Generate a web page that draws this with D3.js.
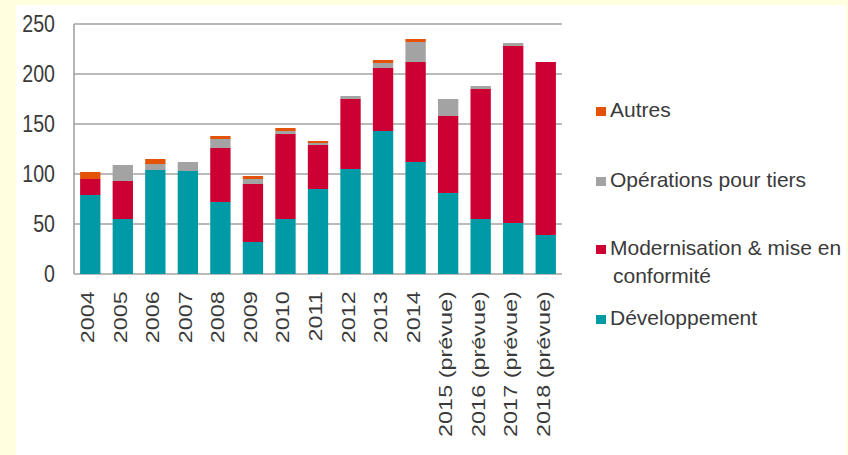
<!DOCTYPE html>
<html>
<head>
<meta charset="utf-8">
<script src="https://cdn.jsdelivr.net/npm/d3@7"></script>
<style>
  body { margin: 0; background: #ffffe0; }
  svg { display: block; }
</style>
</head>
<body>
<script>
const years = ['2004', '2005', '2006', '2007', '2008', '2009', '2010', '2011', '2012', '2013', '2014',
  '2015 (prévue)', '2016 (prévue)', '2017 (prévue)', '2018 (prévue)'];
const developpement = [79, 55, 104, 103, 72, 32, 55, 85, 105, 143, 112, 81, 55, 51, 39];
const modernisation = [16, 38, 0, 0, 54, 58, 85, 44, 70, 63, 100, 77, 130, 177, 173];
const operations = [0, 16, 6, 9, 9, 5, 3, 2, 3, 5, 20, 17, 3, 3, 0];
const autres = [7, 0, 5, 0, 3, 3, 3, 2, 0, 3, 3, 0, 0, 0, 0];
const seriesNames = ['Développement', 'Modernisation & mise en conformité', 'Opérations pour tiers', 'Autres'];
const yTicks = [0, 50, 100, 150, 200, 250];

const colors = ['#009aa6', '#cc0033', '#a3a3a3', '#e35205'];
const width = 848;
const height = 455;
const plot = { left: 74, right: 562, top: 24, bottom: 274 };
const textColor = '#3a3a3a';
const font = '"Liberation Sans", Arial, sans-serif';

const table = years.map(function (y, i) {
  return { year: y, d0: developpement[i], d1: modernisation[i], d2: operations[i], d3: autres[i] };
});
const keys = ['d0', 'd1', 'd2', 'd3'];
const stacked = d3.stack().keys(keys)(table);

const svg = d3.select('body')
  .append('svg')
  .attr('width', width)
  .attr('height', height);

// yellow frame, white sheet
svg.append('rect')
  .attr('x', 0).attr('y', 0)
  .attr('width', width).attr('height', height)
  .attr('fill', '#ffffe0');
svg.append('rect')
  .attr('x', 16).attr('y', 5)
  .attr('width', 830).attr('height', height - 5)
  .attr('fill', '#ffffff');

const x = d3.scaleBand()
  .domain(years)
  .range([plot.left, plot.right])
  .paddingInner(0.375)
  .paddingOuter(0.1875);

const y = d3.scaleLinear()
  .domain([0, 250])
  .range([plot.bottom, plot.top]);

// gridlines
svg.append('g')
  .selectAll('line')
  .data(yTicks)
  .enter()
  .append('line')
  .attr('x1', plot.left)
  .attr('x2', plot.right)
  .attr('y1', function (d) { return y(d); })
  .attr('y2', function (d) { return y(d); })
  .attr('stroke', '#a3a3a3')
  .attr('stroke-width', 1.6);

svg.append('line')
  .attr('x1', plot.left).attr('x2', plot.left)
  .attr('y1', plot.top).attr('y2', plot.bottom)
  .attr('stroke', '#a3a3a3')
  .attr('stroke-width', 1.6);

// bars
svg.append('g')
  .selectAll('g')
  .data(stacked)
  .enter()
  .append('g')
  .attr('fill', function (d, i) { return colors[i]; })
  .selectAll('rect')
  .data(function (d) { return d; })
  .enter()
  .append('rect')
  .attr('x', function (d) { return x(d.data.year); })
  .attr('y', function (d) { return y(d[1]); })
  .attr('width', x.bandwidth())
  .attr('height', function (d) { return y(d[0]) - y(d[1]); });

// y axis labels
const yAxis = d3.axisLeft(y)
  .tickValues(yTicks)
  .tickSize(0)
  .tickPadding(19);

const yg = svg.append('g')
  .attr('transform', `translate(${plot.left},0)`)
  .call(yAxis);
yg.select('.domain').remove();
yg.selectAll('text')
  .attr('font-family', font)
  .attr('font-size', '19.6px')
  .attr('fill', textColor)
  .attr('dy', '0.32em')
  .attr('transform', 'scale(1,1.26)');

// x axis labels
const xAxis = d3.axisBottom(x).tickSize(0);
const xg = svg.append('g')
  .attr('transform', `translate(0,${plot.bottom})`)
  .call(xAxis);
xg.select('.domain').remove();
xg.selectAll('text')
  .attr('font-family', font)
  .attr('font-size', '18.6px')
  .attr('fill', textColor)
  .attr('text-anchor', 'end')
  .attr('x', -13.6)
  .attr('y', 0)
  .attr('dy', 4)
  .attr('transform', 'rotate(-90) scale(1.26,1)');

// legend, top to bottom in reverse series order
const legendBase = [325, 255, 187, 117];
const legend = svg.append('g');
seriesNames.forEach(function (name, i) {
  const by = legendBase[i];
  legend.append('rect')
    .attr('x', 596)
    .attr('y', by - 10)
    .attr('width', 10)
    .attr('height', 9)
    .attr('fill', colors[i]);
  const t = legend.append('text')
    .attr('x', 610)
    .attr('y', by)
    .attr('font-family', font)
    .attr('font-size', '21px')
    .attr('fill', textColor);
  if (name.indexOf('&') >= 0) {
    t.append('tspan').attr('x', 610).text('Modernisation & mise en');
    t.append('tspan').attr('x', 613).attr('dy', 28).text('conformité');
  } else {
    t.text(name);
  }
});
</script>
</body>
</html>
